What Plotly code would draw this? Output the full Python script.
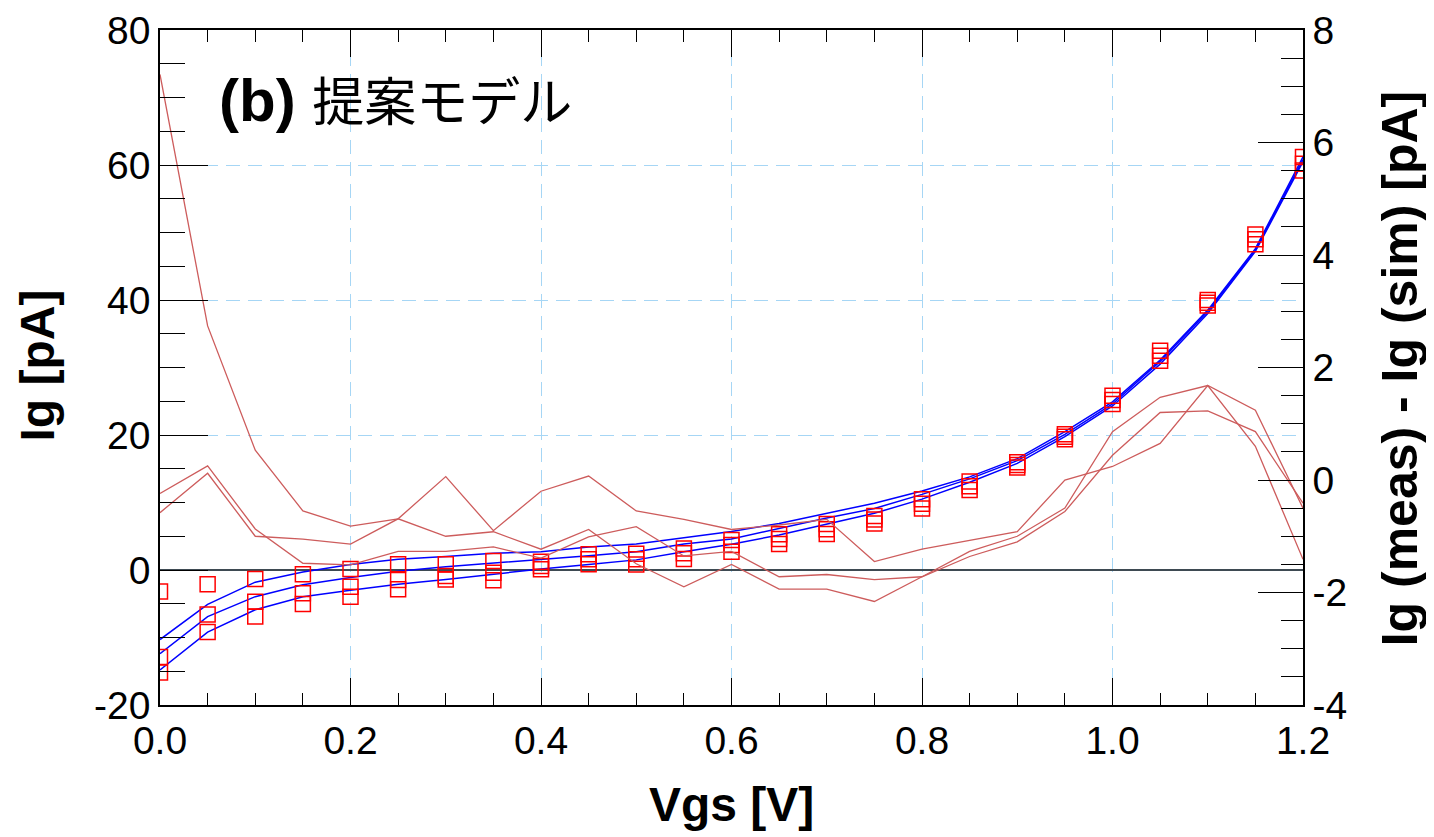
import plotly.graph_objects as go

# ---------------- data ----------------
vgs = [0.0, 0.05, 0.1, 0.15, 0.2, 0.25, 0.3, 0.35, 0.4, 0.45, 0.5, 0.55, 0.6,
       0.65, 0.7, 0.75, 0.8, 0.85, 0.9, 0.95, 1.0, 1.05, 1.1, 1.15, 1.2]

# simulated Ig [pA] (blue lines)
sim_a = [-10.3, -5.1, -1.8, -0.3, 0.8, 1.6, 2.0, 2.5, 2.7, 3.4, 3.85, 4.8, 5.7,
         6.9, 8.4, 9.9, 11.7, 13.8, 16.5, 20.5, 24.9, 31.1, 38.5, 47.6, 61.2]
sim_b = [-12.4, -6.9, -3.95, -2.2, -1.1, -0.2, 0.5, 1.0, 1.6, 2.1, 2.7, 3.85, 4.6,
         6.2, 7.7, 9.1, 11.2, 13.5, 16.2, 20.1, 24.6, 30.9, 38.3, 47.4, 60.8]
sim_c = [-14.8, -9.2, -5.9, -3.95, -3.0, -2.1, -1.4, -0.6, 0.15, 0.8, 1.5, 2.7, 3.8,
         5.2, 6.8, 8.4, 10.5, 13.0, 15.8, 19.75, 24.3, 30.5, 38.0, 47.2, 60.5]

# measured Ig [pA] (red squares)
meas_a = [-3.2, -2.1, -1.33, -0.64, 0.15, 0.84, 0.84, 1.35, 1.23, 2.32, 2.4, 3.2, 4.44,
          5.28, 6.81, 8.0, 10.5, 13.1, 15.95, 20.1, 25.8, 32.5, 40.0, 49.7, 61.2]
meas_b = [-12.9, -6.6, -4.7, -3.46, -2.47, -1.48, -0.9, -0.4, 0.6, 1.58, 1.6, 2.47, 3.7,
          4.59, 6.02, 7.5, 9.8, 12.4, 15.55, 19.75, 25.2, 31.75, 39.6, 49.0, 60.2]
meas_c = [-15.2, -9.2, -6.9, -5.04, -3.95, -2.86, -1.4, -1.5, 0.1, 0.84, 0.8, 1.63, 2.72,
          3.85, 5.33, 6.9, 9.1, 11.85, 15.2, 19.36, 24.6, 31.0, 39.2, 48.25, 59.2]

# Ig(meas) - Ig(sim) [pA] (right axis, thin red lines)
diff_a = [7.21, 2.74, 0.53, -0.55, -0.82, -0.69, 0.06, -0.90, -0.20, 0.07, -0.55, -0.70, -0.88,
          -0.80, -0.70, -1.45, -1.23, -1.08, -0.92, 0.0, 0.24, 0.65, 1.68, 0.60, -1.41]
diff_b = [-0.24, 0.25, -0.87, -1.48, -1.51, -1.27, -1.27, -1.19, -1.39, -1.01, -0.83, -1.35, -1.27,
          -1.72, -1.68, -1.77, -1.72, -1.36, -1.10, -0.56, 0.44, 1.20, 1.23, 0.86, -0.41]
diff_c = [-0.58, 0.12, -1.0, -1.05, -1.14, -0.69, -1.0, -0.92, -1.23, -0.88, -1.49, -1.90, -1.50,
          -1.94, -1.94, -2.16, -1.72, -1.27, -1.0, -0.50, 0.86, 1.47, 1.68, 1.24, -0.50]

x_tickvals = [0.0, 0.2, 0.4, 0.6, 0.8, 1.0, 1.2]
x_ticktext = ["0.0", "0.2", "0.4", "0.6", "0.8", "1.0", "1.2"]
y_tickvals = [-20, 0, 20, 40, 60, 80]
y_ticktext = ["-20", "0", "20", "40", "60", "80"]
y2_tickvals = [-4, -2, 0, 2, 4, 6, 8]
y2_ticktext = ["-4", "-2", "0", "2", "4", "6", "8"]

# ---------------- figure ----------------
fig = go.Figure()

for s in (sim_a, sim_b, sim_c):
    fig.add_trace(go.Scatter(x=vgs, y=s, mode="lines",
                             line=dict(color="#0000ff", width=1.5), yaxis="y"))

for m in (meas_a, meas_b, meas_c):
    fig.add_trace(go.Scatter(x=vgs, y=m, mode="markers", yaxis="y",
                             marker=dict(symbol="square-open", size=15, color="#ff0000",
                                         line=dict(width=1.5, color="#ff0000"))))

for d in (diff_a, diff_b, diff_c):
    fig.add_trace(go.Scatter(x=vgs, y=d, mode="lines", yaxis="y2",
                             line=dict(color="#cd5c5c", width=1.3)))

tickfont = dict(family="Liberation Sans, Arial, sans-serif", size=39, color="black")
gridcol = "#a6d6f5"
griddash = "14px,8px"

# page body has an 8 px default margin; size the figure so the plot area
# lands at x 160..1303, y 30..705 in the 1434x837 window
fig.update_layout(
    width=1426, height=829,
    margin=dict(l=152, r=131, t=22, b=132, autoexpand=False),
    plot_bgcolor="white", paper_bgcolor="white",
    showlegend=False,
    font=dict(family="Liberation Sans, Arial, sans-serif", size=39, color="black"),
    xaxis=dict(
        range=[0, 1.2], tickmode="array", tickvals=x_tickvals, ticktext=x_ticktext,
        ticks="inside", ticklen=27, tickwidth=1.3, tickcolor="black",
        showline=True, linecolor="black", linewidth=1.5, mirror="ticks",
        showgrid=True, gridcolor=gridcol, gridwidth=1.2, griddash=griddash,
        zeroline=False, tickfont=tickfont,
        minor=dict(tickmode="linear", tick0=0, dtick=0.05, ticks="inside", ticklen=12,
                   tickwidth=1.2, tickcolor="black", showgrid=False),
    ),
    yaxis=dict(
        range=[-20, 80], tickmode="array", tickvals=y_tickvals, ticktext=y_ticktext,
        ticks="inside", ticklen=48, tickwidth=1.3, tickcolor="black",
        showline=True, linecolor="black", linewidth=1.5,
        showgrid=True, gridcolor=gridcol, gridwidth=1.2, griddash=griddash,
        zeroline=True, zerolinecolor="#3e4a52", zerolinewidth=2.4,
        tickfont=tickfont,
        minor=dict(tickmode="linear", tick0=0, dtick=5, ticks="inside", ticklen=25,
                   tickwidth=1.2, tickcolor="black", showgrid=False),
    ),
    yaxis2=dict(
        overlaying="y", side="right",
        range=[-4, 8], tickmode="array", tickvals=y2_tickvals, ticktext=y2_ticktext,
        ticks="inside", ticklen=45, tickwidth=1.3, tickcolor="black",
        showline=True, linecolor="black", linewidth=1.5,
        showgrid=False, zeroline=False, tickfont=tickfont,
        minor=dict(tickmode="linear", tick0=0, dtick=0.5, ticks="inside", ticklen=22,
                   tickwidth=1.2, tickcolor="black", showgrid=False),
    ),
)

titlefont = dict(family="Liberation Sans, Arial, sans-serif", size=48, color="black")
fig.add_annotation(text="<b>Vgs [V]</b>", xref="paper", yref="paper", x=0.5, y=-0.148,
                   xanchor="center", yanchor="middle", showarrow=False, font=titlefont)
fig.add_annotation(text="<b>Ig [pA]</b>", xref="paper", yref="paper", x=-0.1076, y=0.503,
                   xanchor="center", yanchor="middle", textangle=-90, showarrow=False,
                   font=titlefont)
fig.add_annotation(text="<b>Ig (meas) - Ig (sim) [pA]</b>", xref="paper", yref="paper",
                   x=1.085, y=0.499, xanchor="center", yanchor="middle", textangle=-90,
                   showarrow=False,
                   font=dict(family="Liberation Sans, Arial, sans-serif", size=50,
                             color="black"))
fig.add_annotation(text="<b>(b)</b> <span style='font-size:52px'>提案モデル</span>",
                   xref="paper", yref="paper", x=0.0499, y=0.895,
                   xanchor="left", yanchor="middle", showarrow=False,
                   font=dict(family="Liberation Sans, Noto Sans CJK JP, sans-serif",
                             size=60, color="black"))

fig.write_html("out.html")
